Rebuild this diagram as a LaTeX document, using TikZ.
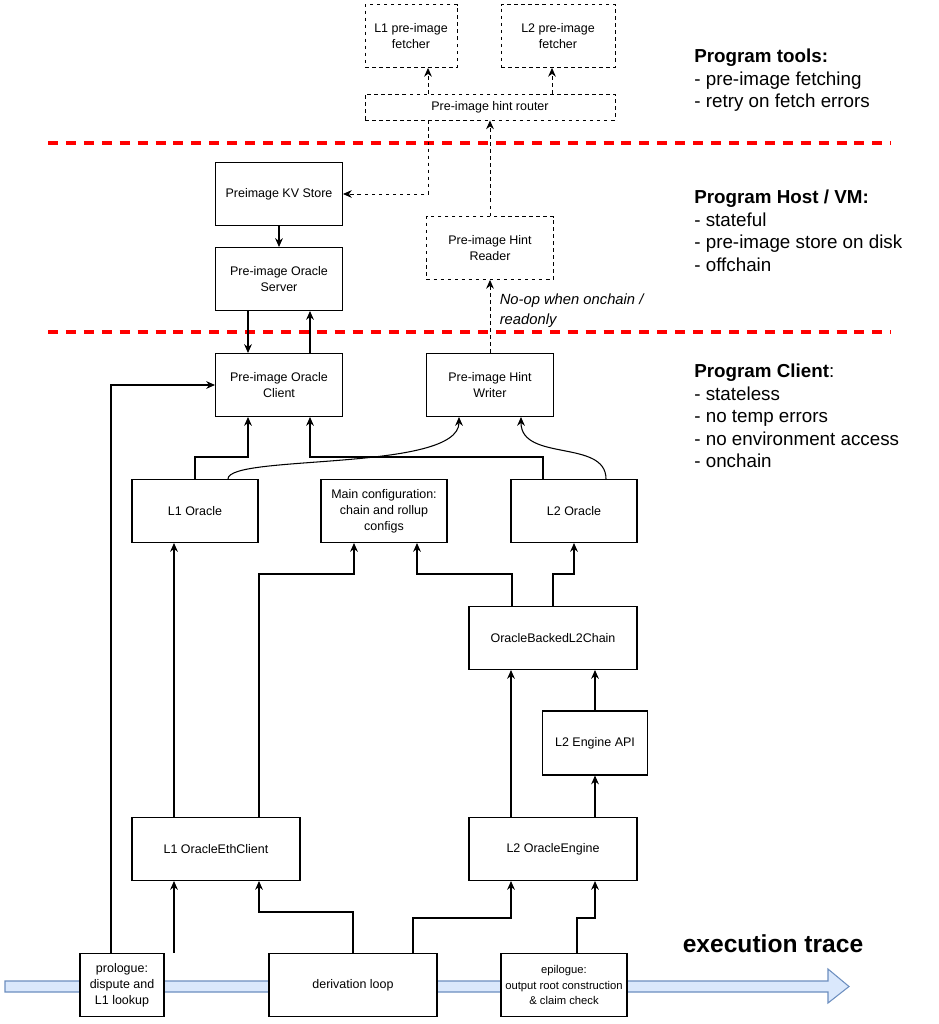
\documentclass[tikz,border=0pt]{standalone}
\usepackage{fontspec}
\setmainfont{Liberation Sans}
\usetikzlibrary{calc,arrows.meta}
\definecolor{traceblue}{HTML}{DAE8FC}
\definecolor{traceedge}{HTML}{6C8EBF}

\begin{document}
\begin{tikzpicture}[
    x=0.02cm, y=-0.02cm,
    box/.style={draw, line width=0.6pt, fill=white, align=center,
      font=\fontsize{7.1}{9}\selectfont, inner sep=1pt,
      minimum width=2.54cm, minimum height=1.26cm},
    dbox/.style={box, line width=0.5pt, dash pattern=on 2pt off 2pt},
    flow/.style={-{Stealth[length=5pt, width=4.4pt]}, line width=0.6pt},
    dflow/.style={flow, line width=0.5pt, dash pattern=on 2pt off 2pt},
    sep/.style={red, line width=1.8pt, dash pattern=on 5.7pt off 4.5pt},
    tag/.style={anchor=north west, align=left, inner sep=0pt,
      font=\fontsize{10.7}{12.8}\selectfont},
    note/.style={font=\fontsize{8.4}{11.3}\selectfont\itshape, align=left}
  ]
  \useasboundingbox (0,0) rectangle (939,1024);
  % ---------------- execution trace arrow ----------------
  \draw[traceedge, fill=traceblue, line width=0.6pt]
    (5,981) -- (828,981) -- (828,969) -- (849,986.5) -- (828,1003)
    -- (828,992) -- (5,992) -- cycle;
  \node[font=\fontsize{14}{16}\selectfont\bfseries] (trace) at (773,944) {execution trace};
  % ---------------- layer separators ----------------
  \draw[sep] (48,143) -- (891,143);
  \draw[sep] (48,332) -- (891,332);
  % ---------------- program tools ----------------
  \node[dbox, minimum width=1.84cm] (f1) at (411,36) {L1 pre-image\\fetcher};
  \node[dbox, minimum width=2.28cm] (f2) at (558,36) {L2 pre-image\\fetcher};
  \node[dbox, minimum width=5.0cm, minimum height=0.52cm] (router) at (490,107) {Pre-image hint router};
  % ---------------- host / vm ----------------
  \node[box] (kv) at (279,194) {Preimage KV Store};
  \node[box] (server) at (279,279) {Pre-image Oracle\\Server};
  \node[dbox] (reader) at (490,248) {Pre-image Hint\\Reader};
  % ---------------- client ----------------
  \node[box] (client) at (279,385) {Pre-image Oracle\\Client};
  \node[box] (writer) at (490,385) {Pre-image Hint\\Writer};
  \node[box, minimum width=2.52cm] (l1o) at (195,511) {L1 Oracle};
  \node[box, minimum width=2.52cm] (cfg) at (384,511) {Main configuration:\\chain and rollup\\configs};
  \node[box, minimum width=2.52cm] (l2o) at (574,511) {L2 Oracle};
  \node[box, minimum width=3.36cm] (chain) at (553,638) {OracleBackedL2Chain};
  \node[box, minimum width=2.1cm, minimum height=1.28cm] (api) at (595,743) {L2 Engine API};
  \node[box, minimum width=3.36cm] (l1eth) at (216,849) {L1 OracleEthClient};
  \node[box, minimum width=3.36cm] (l2eng) at (553,849) {L2 OracleEngine};
  \node[box, minimum width=1.68cm] (pro) at (122,985) {prologue:\\dispute and\\L1 lookup};
  \node[box, minimum width=3.36cm] (loop) at (353,985) {derivation loop};
  \node[box, minimum width=2.52cm, font=\fontsize{6.4}{9}\selectfont] (epi) at (564,985) {epilogue:\\output root construction\\\& claim check};
  % ---------------- side notes ----------------
  \node[tag] (tools) at (694,49) {\textbf{Program tools:}\\- pre-image fetching\\- retry on fetch errors};
  \node[tag] (host) at (694,190) {\textbf{Program Host / VM:}\\- stateful\\- pre-image store on disk\\- offchain};
  \node[tag] (cli) at (694,364) {\textbf{Program Client}:\\- stateless\\- no temp errors\\- no environment access\\- onchain};
  % ---------------- dashed links ----------------
  \draw[dflow] ($(router.north)+(-62,0)$) -- ($(f1.south)+(17,0)$);
  \draw[dflow] ($(router.north)+(62,0)$) -- ($(f2.south)+(-6,0)$);
  \draw[dflow] ($(router.south)+(-62,0)$) |- (kv.east);
  \draw[dflow] (reader.north) -- (router.south);
  \draw[dflow] (writer.north) -- (reader.south)
    node[note, pos=0.58, anchor=west, xshift=2pt] (noop) {No-op when onchain /\\readonly};
  % ---------------- solid links ----------------
  \draw[flow] (kv.south) -- (server.north);
  \draw[flow] ($(server.south)+(-31,0)$) -- ($(client.north)+(-31,0)$);
  \draw[flow] ($(client.north)+(31,0)$) -- ($(server.south)+(31,0)$);
  \draw[flow] ($(pro.north)+(-11,0)$) |- (client.west);
  \draw[flow] (l1o.north) -- ++(0,-22) -| ($(client.south)+(-31,0)$);
  \draw[flow] ($(l2o.north)+(-31,0)$) -- ++(0,-22) -| ($(client.south)+(31,0)$);
  \draw[flow] ($(l1o.north)+(33,0)$) .. controls +(0,-25) and +(0,55) .. ($(writer.south)+(-31,0)$);
  \draw[flow] ($(l2o.north)+(32,0)$) .. controls +(0,-40) and +(0,45) .. ($(writer.south)+(31,0)$);
  \draw[flow] ($(l1eth.north)+(-42,0)$) -- ($(l1o.south)+(-21,0)$);
  \draw[flow] ($(l1eth.north)+(43,0)$) -- ++(0,-243) -| ($(cfg.south)+(-30,0)$);
  \draw[flow] ($(chain.north)+(-41,0)$) -- ++(0,-32) -| ($(cfg.south)+(33,0)$);
  \draw[flow] (chain.north) -- ++(0,-32) -| (l2o.south);
  \draw[flow] ($(l2eng.north)+(-42,0)$) -- ($(chain.south)+(-42,0)$);
  \draw[flow] ($(l2eng.north)+(42,0)$) -- (api.south);
  \draw[flow] (api.north) -- ($(chain.south)+(42,0)$);
  \draw[flow] ($(pro.north)+(52,0)$) -- ($(l1eth.south)+(-42,0)$);
  \draw[flow] (loop.north) -- ++(0,-41) -| ($(l1eth.south)+(43,0)$);
  \draw[flow] ($(loop.north)+(60,0)$) -- ++(0,-35) -| ($(l2eng.south)+(-42,0)$);
  \draw[flow] ($(epi.north)+(13,0)$) -- ++(0,-35) -| ($(l2eng.south)+(42,0)$);
\end{tikzpicture}
\end{document}
